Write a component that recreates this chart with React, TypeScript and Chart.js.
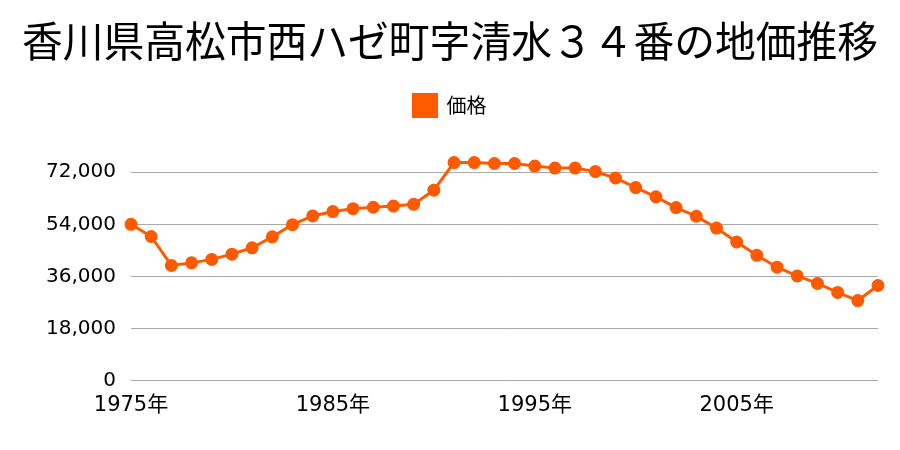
import React, { useEffect, useRef } from "react";
import { Chart, registerables } from "chart.js";

Chart.register(...registerables);

const years = [
  1975, 1976, 1977, 1978, 1979, 1980, 1981, 1982, 1983, 1984, 1985, 1986, 1987,
  1988, 1989, 1990, 1991, 1992, 1993, 1994, 1995, 1996, 1997, 1998, 1999, 2000,
  2001, 2002, 2003, 2004, 2005, 2006, 2007, 2008, 2009, 2010, 2011, 2012,
];
const prices = [
  54000, 49800, 39800, 40700, 41900, 43700, 45900, 49700, 53900, 56900, 58400,
  59400, 59900, 60300, 60900, 65800, 75300, 75300, 75000, 75000, 74100, 73400,
  73400, 72200, 70000, 66700, 63500, 59800, 56800, 52700, 47900, 43300, 39200,
  36200, 33600, 30500, 27700, 32900,
];
const yTicks = [0, 18000, 36000, 54000, 72000];
const labeledYears = [1975, 1985, 1995, 2005];

const TITLE = "香川県高松市西ハゼ町字清水３４番の地価推移";
const SERIES = "価格";
const COLOR = "#ff5a00";
const FONT = "'Noto Sans CJK JP', 'Noto Sans', sans-serif";
const TICK_FONT = "'DejaVu Sans', 'Noto Sans CJK JP', sans-serif";

export default function App() {
  const ref = useRef<HTMLCanvasElement>(null);
  useEffect(() => {
    document.body.style.margin = "0";
    const chart = new Chart(ref.current!, {
      type: "line",
      data: {
        labels: years.map((y) => y + "年"),
        datasets: [
          {
            label: SERIES,
            data: prices,
            borderColor: COLOR,
            backgroundColor: COLOR,
            borderWidth: 3,
            pointRadius: 5,
            pointHoverRadius: 5,
            pointBackgroundColor: COLOR,
            pointBorderColor: COLOR,
            tension: 0,
          },
        ],
      },
      options: {
        animation: false,
        responsive: false,
        maintainAspectRatio: false,
        layout: { padding: { left: 22, right: 22, top: 0, bottom: 28 } },
        plugins: {
          title: {
            display: true,
            text: TITLE,
            color: "#000",
            font: { family: FONT, size: 42, weight: "normal" },
            padding: { top: 16, bottom: 18 },
          },
          legend: {
            display: true,
            labels: {
              color: "#000",
              font: { family: FONT, size: 20 },
              boxWidth: 23,
              boxHeight: 22,
              padding: 10,
            },
          },
          tooltip: { enabled: false },
        },
        scales: {
          x: {
            offset: false,
            grid: { display: false },
            border: { display: false },
            ticks: {
              autoSkip: false,
              maxRotation: 0,
              color: "#000",
              padding: 4,
              font: { family: TICK_FONT, size: 21 },
              callback: (_v: any, i: number) =>
                labeledYears.includes(years[i]) ? years[i] + "年" : "",
            },
          },
          y: {
            min: 0,
            max: 87800,
            afterFit: (axis: any) => {
              axis.width = 109;
            },
            afterBuildTicks: (axis: any) => {
              axis.ticks = yTicks.map((v) => ({ value: v }));
            },
            grid: { color: "#aaaaaa", lineWidth: 1, drawTicks: false },
            border: { display: false },
            ticks: {
              color: "#000",
              padding: 15,
              font: { family: TICK_FONT, size: 20 },
              callback: (v: any) => Number(v).toLocaleString("en-US"),
            },
          },
        },
      },
    });
    return () => chart.destroy();
  }, []);
  return (
    <div style={{ position: "absolute", left: 0, top: 0, width: 900, height: 450 }}>
      <canvas ref={ref} width={900} height={450} />
    </div>
  );
}
